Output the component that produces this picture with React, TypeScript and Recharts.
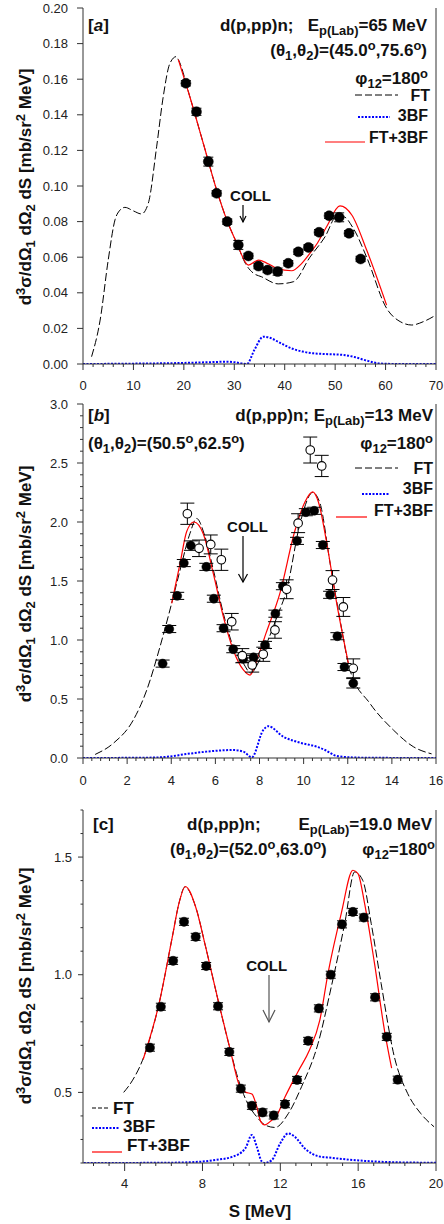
import React from "react";
import {
  ComposedChart,
  ErrorBar,
  Line,
  ReferenceLine,
  Scatter,
  XAxis,
  YAxis,
} from "recharts";

const FONT = "'Liberation Sans', Arial, Helvetica, sans-serif";
const AXIS = "#333";
const RED = "#ff0000";
const BLUE = "#0000ff";

// ---------- panel [a]  Ep(Lab) = 65 MeV
const aExpS = [20.4, 22.5, 24.85, 26.5, 28.6, 30.8, 32.8, 34.8, 36.6, 38.6, 40.7, 42.7, 44.7, 46.8, 48.8, 50.8, 52.75, 55.05];
const aExpV = [0.1577, 0.1417, 0.1137, 0.0959, 0.08, 0.0669, 0.0607, 0.055, 0.0528, 0.0519, 0.0566, 0.063, 0.0655, 0.074, 0.0833, 0.0824, 0.0734, 0.059];
const aExpE = [0.0015, 0.002, 0.0025, 0.0015, 0.0015, 0.0025, 0.0015, 0.0015, 0.0015, 0.002, 0.0015, 0.0015, 0.0015, 0.0015, 0.0015, 0.0025, 0.0015, 0.0015];

const aFtS = [1.7, 3.4, 5.0, 6.35, 7.2, 8.3, 10.0, 11.6, 12.95, 14.6, 15.9, 17.25, 18.5, 18.9, 21.2, 23.85, 26.5, 28.5, 30.5, 32.2, 33.8, 35.4, 38.7, 41.7, 45.0, 48.0, 50.3, 51.6, 53.6, 56.25, 60.2, 62.9, 65.2, 67.5, 70];
const aFtV = [0.0041, 0.0247, 0.0584, 0.081, 0.086, 0.088, 0.086, 0.0843, 0.0903, 0.122, 0.15, 0.169, 0.1727, 0.171, 0.15, 0.124, 0.0978, 0.081, 0.0678, 0.0565, 0.051, 0.049, 0.045, 0.0462, 0.06, 0.0715, 0.0828, 0.0828, 0.0762, 0.06, 0.0313, 0.0238, 0.0219, 0.0238, 0.0275];

const aTbfS = [0, 10, 20, 25, 28.5, 30, 32.5, 34, 35.75, 37, 39, 41.7, 43.5, 45.7, 48, 51.6, 54, 56.25, 59, 62, 70];
const aTbfV = [0, 0.0002, 0.0006, 0.001, 0.0013, 0.001, 0, 0.008, 0.0153, 0.0148, 0.012, 0.0084, 0.007, 0.006, 0.0056, 0.0051, 0.0038, 0.0019, 0.0003, 0, 0];

const aSumS = [18.9, 21.2, 23.85, 26.5, 28.5, 30.5, 32.8, 34.8, 36.6, 38.4, 41.4, 43.2, 45.0, 46.5, 48.3, 50.96, 53.3, 56.25, 60.2];
const aSumV = [0.171, 0.15, 0.124, 0.0978, 0.081, 0.0678, 0.0556, 0.0584, 0.0565, 0.0538, 0.0524, 0.056, 0.0622, 0.068, 0.0771, 0.0888, 0.0837, 0.064, 0.0331];

// ---------- panel [b]  Ep(Lab) = 13 MeV
const bFillS = [3.61, 3.91, 4.27, 4.57, 4.89, 5.59, 5.93, 6.37, 6.81, 7.26, 7.73, 8.25, 8.72, 9.06, 9.7, 10.1, 10.48, 10.87, 11.2, 11.53, 11.85, 12.25];
const bFillV = [0.8, 1.093, 1.374, 1.652, 1.8, 1.62, 1.35, 1.1, 0.922, 0.84, 0.853, 0.958, 1.223, 1.456, 1.84, 2.083, 2.095, 1.805, 1.383, 1.032, 0.771, 0.633];
const bFillE = [0.03, 0.03, 0.03, 0.03, 0.04, 0.03, 0.03, 0.03, 0.03, 0.03, 0.03, 0.03, 0.03, 0.03, 0.03, 0.03, 0.03, 0.03, 0.03, 0.03, 0.03, 0.04];

const bOpenS = [4.73, 5.26, 5.79, 6.27, 6.74, 7.22, 7.67, 8.17, 8.7, 9.23, 9.75, 10.3, 10.82, 11.31, 11.8, 12.25];
const bOpenV = [2.07, 1.777, 1.81, 1.68, 1.155, 0.867, 0.788, 0.879, 1.085, 1.43, 1.99, 2.61, 2.475, 1.508, 1.28, 0.76];
const bOpenE = [0.09, 0.07, 0.08, 0.09, 0.07, 0.06, 0.06, 0.06, 0.07, 0.08, 0.08, 0.11, 0.09, 0.08, 0.08, 0.08];

const bFtS = [0.55, 1.37, 2.28, 2.89, 3.49, 3.94, 4.4, 4.85, 5.15, 5.53, 5.91, 6.36, 6.81, 7.27, 7.6, 8.0, 8.33, 8.8, 9.23, 9.84, 10.41, 10.74, 11.2, 11.65, 12.1, 13.0, 14.07, 14.97, 15.8];
const bFtV = [0.03, 0.124, 0.322, 0.576, 0.943, 1.254, 1.593, 1.904, 2.03, 1.876, 1.593, 1.226, 0.943, 0.802, 0.72, 0.83, 0.972, 1.2, 1.424, 1.99, 2.25, 2.16, 1.65, 1.17, 0.746, 0.464, 0.237, 0.096, 0.035];

const bTbfS = [0, 3.0, 3.79, 4.7, 5.6, 6.81, 7.27, 7.65, 8.17, 8.4, 9.08, 9.84, 10.59, 10.97, 11.5, 12.2, 13, 16];
const bTbfV = [0, 0.003, 0.01, 0.034, 0.054, 0.068, 0.054, 0.006, 0.237, 0.27, 0.18, 0.13, 0.096, 0.068, 0.017, 0.005, 0.002, 0];

const bSumS = [4.02, 4.4, 4.7, 5.03, 5.45, 5.91, 6.36, 6.81, 7.27, 7.57, 7.95, 8.3, 8.93, 9.61, 10.06, 10.41, 10.67, 11.05, 11.5, 12.03];
const bSumV = [1.31, 1.65, 1.92, 2.0, 1.9, 1.56, 1.198, 0.915, 0.746, 0.703, 0.87, 1.06, 1.4, 1.93, 2.17, 2.255, 2.17, 1.82, 1.31, 0.802];

// ---------- panel [c]  Ep(Lab) = 19.0 MeV
const cExpS = [5.3, 5.86, 6.49, 7.05, 7.65, 8.19, 8.8, 9.38, 9.97, 10.54, 11.09, 11.66, 12.24, 12.86, 13.43, 13.98, 14.59, 15.17, 15.73, 16.29, 16.87, 17.47, 18.03];
const cExpV = [0.69, 0.864, 1.059, 1.225, 1.161, 1.037, 0.866, 0.672, 0.516, 0.443, 0.415, 0.402, 0.45, 0.553, 0.719, 0.857, 1.0, 1.214, 1.267, 1.243, 0.904, 0.736, 0.554];
const cExpE = [0.015, 0.015, 0.015, 0.015, 0.015, 0.015, 0.015, 0.015, 0.015, 0.015, 0.015, 0.015, 0.015, 0.015, 0.015, 0.015, 0.015, 0.015, 0.015, 0.015, 0.015, 0.015, 0.015];

const cFtS = [3.95, 4.41, 4.92, 5.77, 6.45, 6.79, 7.1, 7.65, 8.16, 8.84, 9.43, 9.86, 10.28, 10.79, 11.25, 11.73, 12.41, 13.09, 13.94, 14.62, 15.31, 15.82, 16.24, 16.67, 17.18, 17.86, 18.54, 19.22, 19.9];
const cFtV = [0.5, 0.552, 0.637, 0.878, 1.161, 1.303, 1.373, 1.288, 1.119, 0.878, 0.68, 0.55, 0.46, 0.396, 0.36, 0.351, 0.41, 0.524, 0.708, 0.949, 1.218, 1.437, 1.4, 1.218, 0.963, 0.651, 0.496, 0.41, 0.354];

const cTbfS = [1.9, 6, 7.8, 8.67, 9.52, 10.2, 10.54, 10.79, 11.05, 11.2, 11.56, 11.99, 12.41, 12.75, 13.26, 13.94, 14.62, 16.33, 18, 20];
const cTbfV = [0.2, 0.201, 0.205, 0.213, 0.226, 0.262, 0.319, 0.269, 0.206, 0.2, 0.212, 0.283, 0.326, 0.311, 0.262, 0.229, 0.222, 0.209, 0.203, 0.201];

const cSumS = [4.95, 5.77, 6.45, 6.79, 7.12, 7.65, 8.16, 8.84, 9.43, 9.86, 10.2, 10.54, 10.79, 11.0, 11.2, 11.56, 11.8, 12.24, 12.92, 13.5, 14.03, 14.45, 15.13, 15.73, 15.99, 16.33, 16.84, 17.35, 17.72];
const cSumV = [0.64, 0.878, 1.161, 1.303, 1.375, 1.288, 1.119, 0.878, 0.68, 0.538, 0.502, 0.493, 0.439, 0.375, 0.362, 0.382, 0.4, 0.48, 0.59, 0.68, 0.807, 1.006, 1.26, 1.444, 1.43, 1.303, 1.048, 0.765, 0.603];

// ---------- ticks
const aXMajor = [0, 10, 20, 30, 40, 50, 60, 70];
const aYMajor = [0, 0.02, 0.04, 0.06, 0.08, 0.1, 0.12, 0.14, 0.16, 0.18, 0.2];
const bXMajor = [0, 2, 4, 6, 8, 10, 12, 14, 16];
const bYMajor = [0, 0.5, 1, 1.5, 2, 2.5, 3];
const cXMajor = [4, 8, 12, 16, 20];
const cYMajor = [0.5, 1, 1.5];

const steps = (from: number, to: number, step: number) => {
  const out: number[] = [];
  const n = Math.round((to - from) / step);
  for (let i = 0; i <= n; i++) out.push(+(from + i * step).toFixed(4));
  return out;
};
const near = (v: number, list: number[]) => list.some((m) => Math.abs(m - v) < 1e-6);

const zip = (s: number[], v: number[], e?: number[]) =>
  s.map((x, i) => ({ s: x, v: v[i], e: e ? e[i] : 0 }));

const XTick = (p: any) => {
  const { x, y, payload, majors, big, small, dy, fmt } = p;
  const major = near(payload.value, majors);
  return (
    <g>
      <line x1={x} x2={x} y1={y} y2={y + (major ? big : small)} stroke={AXIS} />
      {major && (
        <text x={x} y={y + dy} textAnchor="middle" fontSize={13} fontFamily={FONT} fill="#222">
          {fmt(payload.value)}
        </text>
      )}
    </g>
  );
};

const YTick = (p: any) => {
  const { x, y, payload, majors, big, small, gap, fmt } = p;
  const major = near(payload.value, majors);
  return (
    <g>
      <line x1={x} x2={x - (major ? big : small)} y1={y} y2={y} stroke={AXIS} />
      {major && (
        <text x={x - big - gap} y={y + 4.5} textAnchor="end" fontSize={13} fontFamily={FONT} fill="#222">
          {fmt(payload.value)}
        </text>
      )}
    </g>
  );
};

const dot = (r: number, open: boolean) => (p: any) =>
  <circle cx={p.cx} cy={p.cy} r={r} fill={open ? "#fff" : "#000"} stroke="#000" strokeWidth={open ? 1.1 : 0.5} />;

// rich text: [text, 0 normal | 1 sup | -1 sub]
type Part = [string, number];
const rich = (parts: Part[], size: number) => {
  let cur = 0;
  return parts.map(([t, k], i) => {
    const target = k === 1 ? -size * 0.38 : k === -1 ? size * 0.26 : 0;
    const dy = target - cur;
    cur = target;
    return (
      <tspan key={i} dy={dy} fontSize={k ? size * 0.76 : size}>
        {t}
      </tspan>
    );
  });
};

const yTitle: Part[] = [["d", 0], ["3", 1], ["σ/dΩ", 0], ["1", -1], [" dΩ", 0], ["2", -1], [" dS [mb/sr", 0], ["2", 1], [" MeV]", 0]];

const T = (props: any) => (
  <text fontFamily={FONT} fontWeight="bold" fill="#111" style={{ whiteSpace: "pre" }} {...props} />
);

const Arrow = ({ x, y1, y2, w, h, color }: any) => (
  <g stroke={color} fill="none" strokeWidth={1.2}>
    <line x1={x} y1={y1} x2={x} y2={y2} />
    <polyline points={`${x - w},${y2 - h} ${x},${y2} ${x + w},${y2 - h}`} />
  </g>
);

const W = 444;

export default function App() {
  const aFt = zip(aFtS, aFtV);
  const aTbf = zip(aTbfS, aTbfV);
  const aSum = zip(aSumS, aSumV);
  const aExp = zip(aExpS, aExpV, aExpE);
  const bFt = zip(bFtS, bFtV);
  const bTbf = zip(bTbfS, bTbfV);
  const bSum = zip(bSumS, bSumV);
  const bFill = zip(bFillS, bFillV, bFillE);
  const bOpen = zip(bOpenS, bOpenV, bOpenE);
  const cFt = zip(cFtS, cFtV);
  const cTbf = zip(cTbfS, cTbfV);
  const cSum = zip(cSumS, cSumV);
  const cExp = zip(cExpS, cExpV, cExpE);

  const lines = (ft: any[], tbf: any[], sum: any[]) => [
    <Line key="ft" data={ft} dataKey="v" type="monotone" stroke="#000" strokeWidth={1} strokeDasharray="8 3" dot={false} isAnimationActive={false} />,
    <Line key="tbf" data={tbf} dataKey="v" type="monotone" stroke={BLUE} strokeWidth={2} strokeDasharray="2 1.5" dot={false} isAnimationActive={false} />,
    <Line key="sum" data={sum} dataKey="v" type="monotone" stroke={RED} strokeWidth={1.2} dot={false} isAnimationActive={false} />,
  ];

  return (
    <div style={{ position: "absolute", left: 0, top: 0, width: W, height: 1224, background: "#fff" }}>
      {/* panel a */}
      <div style={{ position: "absolute", left: 0, top: 0 }}>
        <ComposedChart width={W} height={400} margin={{ top: 8, right: 8, bottom: 6, left: 0 }}>
          <XAxis
            type="number" dataKey="s" domain={[0, 70]} allowDataOverflow ticks={steps(0, 70, 2)} interval={0}
            height={30} stroke={AXIS} tickLine={false} tickSize={0} tickMargin={0}
            tick={(p: any) => <XTick {...p} majors={aXMajor} big={6} small={3} dy={26} fmt={(v: number) => String(v)} />}
          />
          <YAxis
            type="number" dataKey="v" domain={[0, 0.2]} allowDataOverflow ticks={aYMajor} interval={0}
            width={83} stroke={AXIS} tickLine={false} tickSize={0} tickMargin={0}
            tick={(p: any) => <YTick {...p} majors={aYMajor} big={6} small={3} gap={9} fmt={(v: number) => v.toFixed(2)} />}
          />
          <ReferenceLine x={70} stroke={AXIS} />
          {lines(aFt, aTbf, aSum)}
          <Scatter data={aExp} dataKey="v" shape={dot(5, false)} isAnimationActive={false}>
            <ErrorBar dataKey="e" direction="y" width={5} stroke="#000" strokeWidth={1} />
          </Scatter>
        </ComposedChart>
      </div>

      {/* panel b */}
      <div style={{ position: "absolute", left: 0, top: 390 }}>
        <ComposedChart width={W} height={410} margin={{ top: 14, right: 8, bottom: 12, left: 0 }}>
          <XAxis
            type="number" dataKey="s" domain={[0, 16]} allowDataOverflow ticks={steps(0, 16, 0.4)} interval={0}
            height={30} stroke={AXIS} tickLine={false} tickSize={0} tickMargin={0}
            tick={(p: any) => <XTick {...p} majors={bXMajor} big={6} small={3} dy={27} fmt={(v: number) => String(v)} />}
          />
          <YAxis
            type="number" dataKey="v" domain={[0, 3]} allowDataOverflow ticks={steps(0, 3, 0.1)} interval={0}
            width={83} stroke={AXIS} tickLine={false} tickSize={0} tickMargin={0}
            tick={(p: any) => <YTick {...p} majors={bYMajor} big={6} small={3} gap={9} fmt={(v: number) => v.toFixed(1)} />}
          />
          <ReferenceLine x={16} stroke={AXIS} />
          {lines(bFt, bTbf, bSum)}
          <Scatter data={bFill} dataKey="v" shape={dot(4.5, false)} isAnimationActive={false}>
            <ErrorBar dataKey="e" direction="y" width={7} stroke="#000" strokeWidth={1} />
          </Scatter>
          <Scatter data={bOpen} dataKey="v" shape={dot(4.3, true)} isAnimationActive={false}>
            <ErrorBar dataKey="e" direction="y" width={7} stroke="#000" strokeWidth={1} />
          </Scatter>
        </ComposedChart>
      </div>

      {/* panel c */}
      <div style={{ position: "absolute", left: 0, top: 800 }}>
        <ComposedChart width={W} height={424} margin={{ top: 10, right: 8, bottom: 31, left: 0 }}>
          <XAxis
            type="number" dataKey="s" domain={[1.86, 20]} allowDataOverflow ticks={steps(2.4, 20, 0.8)} interval={0}
            height={30} stroke={AXIS} tickLine={false} tickSize={0} tickMargin={0}
            tick={(p: any) => <XTick {...p} majors={cXMajor} big={8} small={3} dy={25} fmt={(v: number) => String(v)} />}
          />
          <YAxis
            type="number" dataKey="v" domain={[0.2, 1.7]} allowDataOverflow ticks={steps(0.2, 1.7, 0.1)} interval={0}
            width={83} stroke={AXIS} tickLine={false} tickSize={0} tickMargin={0}
            tick={(p: any) => <YTick {...p} majors={cYMajor} big={5} small={2.5} gap={6} fmt={(v: number) => v.toFixed(1)} />}
          />
          <ReferenceLine x={20} stroke={AXIS} />
          {lines(cFt, cTbf, cSum)}
          <Scatter data={cExp} dataKey="v" shape={dot(4.6, false)} isAnimationActive={false}>
            <ErrorBar dataKey="e" direction="y" width={5} stroke="#000" strokeWidth={1} />
          </Scatter>
        </ComposedChart>
      </div>

      {/* annotations */}
      <svg width={W} height={1224} style={{ position: "absolute", left: 0, top: 0, pointerEvents: "none" }}>
        {/* y titles */}
        {[187, 584, 986].map((cy) => (
          <T key={cy} x={0} y={0} fontSize={17} textAnchor="middle" transform={`translate(31 ${cy}) rotate(-90)`}>
            {rich(yTitle, 17)}
          </T>
        ))}

        {/* panel a */}
        <T x={88} y={31} fontSize={17}>[<tspan fontStyle="italic">a</tspan>]</T>
        <T x={427} y={31} fontSize={17} textAnchor="end">{rich([["d(p,pp)n;\u00a0\u00a0 E", 0], ["p(Lab)", -1], ["=65 MeV", 0]], 17)}</T>
        <T x={427} y={56} fontSize={17} textAnchor="end">{rich([["(θ", 0], ["1", -1], [",θ", 0], ["2", -1], [")=(45.0", 0], ["o", 1], [",75.6", 0], ["o", 1], [")", 0]], 17)}</T>
        <T x={428} y={84} fontSize={17} textAnchor="end">{rich([["φ", 0], ["12", -1], ["=180", 0], ["o", 1]], 17)}</T>
        <line x1={355} x2={398} y1={95} y2={95} stroke="#000" strokeDasharray="7 3" />
        <T x={430} y={101} fontSize={16} textAnchor="end">FT</T>
        <line x1={358} x2={390} y1={117} y2={117} stroke={BLUE} strokeWidth={2} strokeDasharray="2 1.5" />
        <T x={428} y={121} fontSize={16} textAnchor="end">3BF</T>
        <line x1={325} x2={365} y1={142} y2={142} stroke={RED} strokeWidth={1.2} />
        <T x={428} y={143} fontSize={16} textAnchor="end">FT+3BF</T>
        <T x={250.5} y={201} fontSize={15} textAnchor="middle">COLL</T>
        <Arrow x={243} y1={205} y2={222} w={3} h={6} color="#000" />

        {/* panel b */}
        <T x={88} y={421} fontSize={17}>[<tspan fontStyle="italic">b</tspan>]</T>
        <T x={433} y={421} fontSize={17} textAnchor="end">{rich([["d(p,pp)n; E", 0], ["p(Lab)", -1], ["=13 MeV", 0]], 17)}</T>
        <T x={88} y={449} fontSize={17}>{rich([["(θ", 0], ["1", -1], [",θ", 0], ["2", -1], [")=(50.5", 0], ["o", 1], [",62.5", 0], ["o", 1], [")", 0]], 17)}</T>
        <T x={433} y={449} fontSize={17} textAnchor="end">{rich([["φ", 0], ["12", -1], ["=180", 0], ["o", 1]], 17)}</T>
        <line x1={355} x2={398} y1={468} y2={468} stroke="#000" strokeDasharray="7 3" />
        <T x={433} y={474} fontSize={16} textAnchor="end">FT</T>
        <line x1={362} x2={390} y1={494} y2={494} stroke={BLUE} strokeWidth={2} strokeDasharray="2 1.5" />
        <T x={433} y={494} fontSize={16} textAnchor="end">3BF</T>
        <line x1={336} x2={367} y1={517} y2={517} stroke={RED} strokeWidth={1.2} />
        <T x={433} y={516} fontSize={16} textAnchor="end">FT+3BF</T>
        <T x={247.5} y={532} fontSize={15} textAnchor="middle">COLL</T>
        <Arrow x={243} y1={536} y2={582} w={4.5} h={8} color="#000" />

        {/* panel c */}
        <T x={93} y={830} fontSize={17}>[c]</T>
        <T x={187} y={830} fontSize={17}>d(p,pp)n;</T>
        <T x={432} y={830} fontSize={17} textAnchor="end">{rich([["E", 0], ["p(Lab)", -1], ["=19.0 MeV", 0]], 17)}</T>
        <T x={170} y={855} fontSize={17}>{rich([["(θ", 0], ["1", -1], [",θ", 0], ["2", -1], [")=(52.0", 0], ["o", 1], [",63.0", 0], ["o", 1], [")", 0]], 17)}</T>
        <T x={435} y={855} fontSize={17} textAnchor="end">{rich([["φ", 0], ["12", -1], ["=180", 0], ["o", 1]], 17)}</T>
        <T x={266.7} y={971} fontSize={15} textAnchor="middle">COLL</T>
        <Arrow x={269} y1={975} y2={1022} w={6} h={12} color="#555" />
        <line x1={92} x2={110} y1={1108} y2={1108} stroke="#000" strokeDasharray="4 2" />
        <T x={113} y={1114} fontSize={17}>FT</T>
        <line x1={92} x2={120} y1={1128} y2={1128} stroke={BLUE} strokeWidth={2} strokeDasharray="2 1.5" />
        <T x={123} y={1132} fontSize={17}>3BF</T>
        <line x1={92} x2={122} y1={1152} y2={1152} stroke={RED} strokeWidth={1.2} />
        <T x={127} y={1151} fontSize={17}>FT+3BF</T>
        <T x={260} y={1217} fontSize={17} textAnchor="middle">S [MeV]</T>
      </svg>
    </div>
  );
}
